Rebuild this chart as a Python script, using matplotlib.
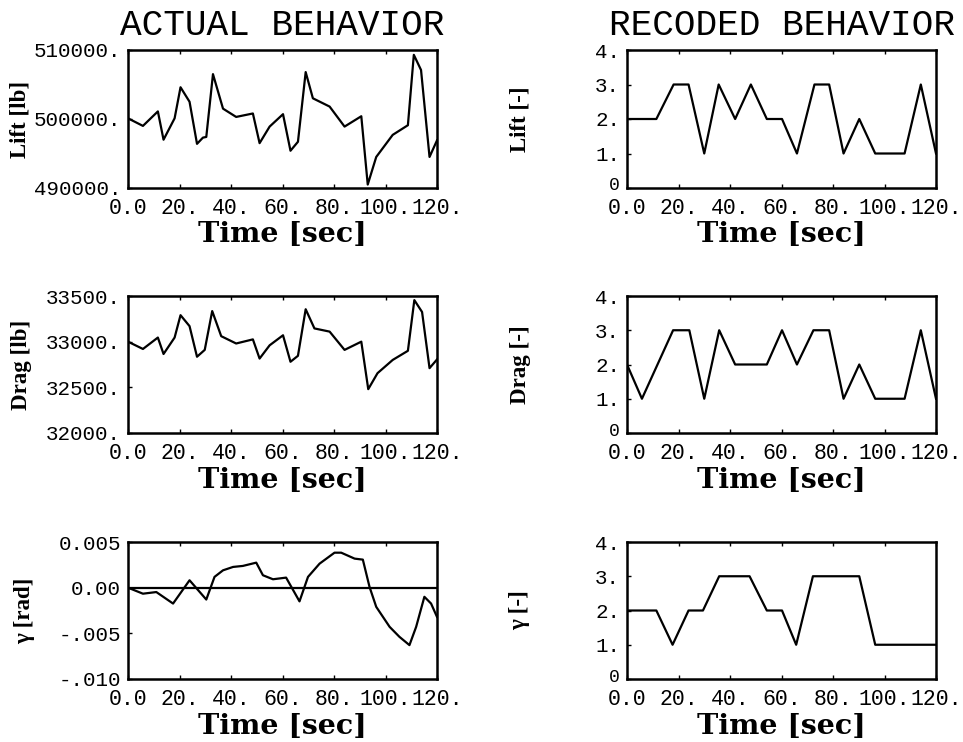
import matplotlib
matplotlib.use("Agg")
import matplotlib.pyplot as plt
import matplotlib.transforms as mtransforms
import numpy as np

# ---------------- data ----------------
lift_t = [0, 5.8, 11.6, 13.8, 18.1, 20.4, 23.9, 26.8, 29.1, 30.4, 33.0, 36.9, 42.0, 48.5,
          51.1, 55.0, 60.2, 63.1, 66.0, 69.0, 71.8, 78.3, 84.1, 90.6, 93.1, 96.4, 102.8,
          108.7, 111.0, 113.8, 117.1, 120.0]
lift_v = [500100, 499000, 501100, 497000, 500100, 504600, 502500, 496400, 497300, 497400,
          506500, 501500, 500300, 500800, 496500, 498900, 500700, 495400, 496700, 506800,
          503000, 501800, 498900, 500400, 490500, 494500, 497700, 499100, 509300, 507100,
          494500, 496900]

drag_t = [0, 5.8, 11.6, 13.8, 18.1, 20.4, 23.9, 26.8, 29.8, 32.7, 36.2, 42.0, 48.5, 51.1,
          55.0, 60.2, 63.1, 66.0, 69.0, 72.4, 78.3, 84.1, 90.6, 93.3, 96.9, 102.8, 108.7,
          111.2, 114.2, 117.1, 120.0]
drag_v = [33000, 32920, 33045, 32865, 33045, 33290, 33170, 32835, 32910, 33335, 33060,
          32980, 33025, 32815, 32960, 33070, 32780, 32845, 33355, 33145, 33110, 32910,
          33000, 32480, 32655, 32800, 32900, 33455, 33325, 32710, 32805]

gam_t = [0, 5.8, 11.0, 17.5, 23.9, 30.4, 33.6, 36.9, 40.8, 44.6, 49.8, 52.4, 56.3, 61.4,
         66.6, 69.9, 74.4, 80.2, 82.8, 88.0, 91.2, 93.8, 96.4, 101.6, 105.4, 109.3, 111.9,
         115.1, 117.7, 120.0]
gam_v = [0.0, -0.00066, -0.00048, -0.00174, 0.00081, -0.0013, 0.00118, 0.0019, 0.00227,
         0.00238, 0.00274, 0.00136, 0.00092, 0.0011, -0.0015, 0.00118, 0.00263, 0.00383,
         0.00383, 0.00318, 0.00307, 0.00008, -0.0021, -0.00429, -0.00538, -0.00629,
         -0.00429, -0.0010, -0.00174, -0.0032]

rlift_t = [0, 11.4, 18.1, 23.9, 30.0, 35.6, 42.0, 48.1, 54.3, 60.2, 66.0, 72.8, 78.5,
           84.1, 90.2, 96.4, 107.8, 114.1, 120.0]
rlift_v = [2, 2, 3, 3, 1, 3, 2, 3, 2, 2, 1, 3, 3, 1, 2, 1, 1, 3, 1]

rdrag_t = [0, 5.8, 17.9, 24.2, 30.0, 35.8, 42.0, 54.3, 60.2, 66.0, 72.4, 78.5, 84.1,
           90.2, 96.4, 107.8, 114.1, 120.0]
rdrag_v = [2, 1, 3, 3, 1, 3, 2, 2, 3, 2, 3, 3, 1, 2, 1, 1, 3, 1]

rgam_t = [0, 11.4, 17.7, 23.9, 29.5, 35.8, 47.6, 54.3, 60.2, 65.7, 72.2, 90.2, 96.4, 120.0]
rgam_v = [2, 2, 1, 2, 2, 3, 3, 2, 2, 1, 3, 3, 1, 1]

x_ticks = [0, 20, 40, 60, 80, 100, 120]
x_ticklabels = ["0.0", "20.", "40.", "60.", "80.", "100.", "120."]

lift_ticks = [490000, 500000, 510000]
lift_ticklabels = ["490000.", "500000.", "510000."]
drag_ticks = [32000, 32500, 33000, 33500]
drag_ticklabels = ["32000.", "32500.", "33000.", "33500."]
gam_ticks = [-0.010, -0.005, 0.0, 0.005]
gam_ticklabels = ["-.010", "-.005", "0.00", "0.005"]
code_ticks = [0, 1, 2, 3, 4]
code_ticklabels = ["0", "1.", "2.", "3.", "4."]

titles = ["ACTUAL BEHAVIOR", "RECODED BEHAVIOR"]
left_ylabels = ["Lift [lb]", "Drag [lb]", "\u03b3 [rad]"]
right_ylabels = ["Lift [-]", "Drag [-]", "\u03b3 [-]"]
xlabel = "Time [sec]"

# ---------------- figure ----------------
W, H = 963, 742
fig = plt.figure(figsize=(W / 100, H / 100), dpi=100)

def box(px_left, px_top, px_right, px_bottom):
    return [px_left / W, 1 - px_bottom / H, (px_right - px_left) / W, (px_bottom - px_top) / H]

left_x = (128, 437)
right_x = (627, 936)
rows = [(50, 188), (296, 433), (542, 679)]

mono = ["Liberation Mono", "DejaVu Sans Mono"]
xtick_font = dict(family=mono, size=15.5)
ytick_font = dict(family=mono, size=15)
lab_font = dict(family=["DejaVu Serif"], size=20.5, weight="bold")
ylab_font = dict(family=["Liberation Serif", "DejaVu Serif"], size=16.5, weight="bold")

def style(ax, yticks, yticklabels, ylim):
    ax.set_xlim(0, 120)
    ax.set_ylim(*ylim)
    ax.set_xticks(x_ticks)
    ax.set_xticklabels(x_ticklabels, **xtick_font)
    ax.set_yticks(yticks)
    ax.set_yticklabels(yticklabels, **ytick_font)
    ax.tick_params(direction="in", length=3, width=1, top=True, right=False)
    ax.tick_params(axis="x", pad=7)
    ax.tick_params(axis="y", pad=5)
    for s in ax.spines.values():
        s.set_linewidth(1.8)
    ax.set_xlabel(xlabel, labelpad=2, **lab_font)

left_series = [(lift_t, lift_v, lift_ticks, lift_ticklabels, (490000, 510000)),
               (drag_t, drag_v, drag_ticks, drag_ticklabels, (32000, 33500)),
               (gam_t, gam_v, gam_ticks, gam_ticklabels, (-0.010, 0.005))]
right_series = [(rlift_t, rlift_v), (rdrag_t, rdrag_v), (rgam_t, rgam_v)]

left_label_x = [20, 22, 25]
right_label_x = [520, 520, 520]

for i, (top, bot) in enumerate(rows):
    t, v, yt, ytl, yl = left_series[i]
    ax = fig.add_axes(box(left_x[0], top, left_x[1], bot))
    ax.plot(t, v, color="black", lw=1.6)
    if i == 2:
        ax.axhline(0, color="black", lw=1.6)
    style(ax, yt, ytl, yl)
    fig.text(left_label_x[i] / W, 1 - (top + bot) / 2 / H, left_ylabels[i],
             rotation=90, ha="center", va="center", **ylab_font)

    rt, rv = right_series[i]
    ax2 = fig.add_axes(box(right_x[0], top, right_x[1], bot))
    ax2.plot(rt, rv, color="black", lw=1.6)
    style(ax2, code_ticks, code_ticklabels, (0, 4))
    # lift the "0" label a little so it sits above the x tick labels
    zero_lbl = ax2.get_yticklabels()[0]
    zero_lbl.set_transform(zero_lbl.get_transform() +
                           mtransforms.ScaledTranslation(0, 4 / 100, fig.dpi_scale_trans))
    zero_lbl.set_fontsize(13)
    fig.text(right_label_x[i] / W, 1 - (top + bot) / 2 / H, right_ylabels[i],
             rotation=90, ha="center", va="center", **ylab_font)

# column titles
for (x0, x1), title in zip([left_x, right_x], titles):
    fig.text((x0 + x1) / 2 / W, 1 - 35 / H, title, family=mono, size=26,
             ha="center", va="baseline")

fig.savefig("out.png", dpi=100, facecolor="white")
